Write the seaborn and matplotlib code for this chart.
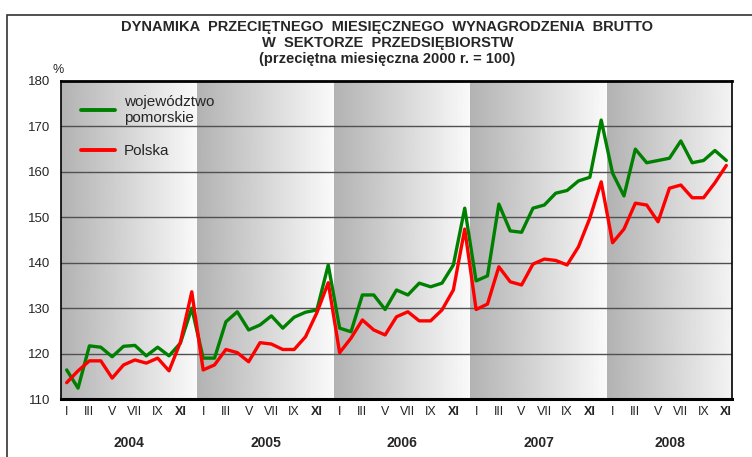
import numpy as np
import pandas as pd
import matplotlib
matplotlib.use("Agg")
import matplotlib.pyplot as plt
import matplotlib.transforms as mtransforms
from matplotlib.patches import Rectangle
import seaborn as sns

# --------------------------
# Data (Jan 2004 - Nov 2008, 2000 avg = 100)
# --------------------------
years = ["2004", "2005", "2006", "2007", "2008"]
month_labels = ["I", "", "III", "", "V", "", "VII", "", "IX", "", "XI", ""]

pomorskie = [116.4, 112.4, 121.7, 121.4, 119.3, 121.6, 121.8, 119.5, 121.4, 119.5, 122.3, 130.0,
             119.0, 119.0, 127.0, 129.2, 125.2, 126.3, 128.3, 125.6, 128.0, 129.1, 129.6, 139.5,
             125.6, 124.8, 132.9, 132.9, 129.7, 134.0, 132.9, 135.5, 134.7, 135.5, 139.5, 152.0,
             136.0, 137.1, 152.9, 147.0, 146.7, 152.0, 152.7, 155.3, 155.9, 158.0, 158.8, 171.4,
             159.7, 154.7, 165.0, 162.0, 162.5, 163.0, 166.8, 162.0, 162.5, 164.7, 162.5]
polska = [113.6, 116.2, 118.4, 118.4, 114.6, 117.5, 118.6, 117.9, 119.0, 116.2, 122.5, 133.6,
          116.4, 117.5, 120.9, 120.2, 118.2, 122.4, 122.1, 120.9, 120.9, 123.7, 129.0, 135.6,
          120.2, 123.4, 127.4, 125.2, 124.1, 128.1, 129.2, 127.2, 127.2, 129.6, 134.0, 147.4,
          129.7, 130.9, 139.1, 135.8, 135.1, 139.7, 140.8, 140.5, 139.5, 143.5, 149.8, 157.8,
          144.4, 147.4, 153.1, 152.7, 149.0, 156.4, 157.1, 154.3, 154.3, 157.6, 161.4]

n = len(polska)
df = pd.DataFrame({
    "idx": list(range(n)) * 2,
    "value": pomorskie + polska,
    "series": ["województwo\npomorskie"] * n + ["Polska"] * n,
})

# --------------------------
# Figure
# --------------------------
sns.set_style("white")
plt.rcParams["font.family"] = ["Liberation Sans", "DejaVu Sans"]

fig = plt.figure(figsize=(7.52, 4.57), dpi=100)
ax = fig.add_axes([0.0811, 0.1269, 0.8923, 0.6959])

# outer frame of the figure
fig.patches.append(Rectangle((7 / 752, -0.1), 1.2, 1 - 15 / 457 + 0.1, transform=fig.transFigure,
                             fill=False, edgecolor="#333333", linewidth=1.2))

# gradient background per year
ymin, ymax = 110, 180
for i in range(len(years)):
    x0 = 12 * i - 0.5
    x1 = min(12 * i + 11.5, n - 0.5)
    frac = (x1 - x0) / 12
    grad = np.linspace(0.70, 0.70 + 0.28 * frac, 100).reshape(1, -1)
    ax.imshow(grad, extent=[x0, x1, ymin, ymax], aspect="auto", cmap="gray",
              vmin=0, vmax=1, zorder=0, interpolation="bilinear")

# grid lines
for g in range(120, 180, 10):
    ax.axhline(g, color="#505050", linewidth=1.0, zorder=1)

sns.lineplot(data=df, x="idx", y="value", hue="series",
             palette=["#008000", "#ff0000"], linewidth=2.4, ax=ax, zorder=3)

ax.set_xlim(-0.5, n - 0.5)
ax.set_ylim(ymin, ymax)
ax.set_xlabel("")
ax.set_ylabel("")

# x ticks
pos = list(range(0, n, 2))
labs = [month_labels[p % 12] for p in pos]
ax.set_xticks(pos)
ax.set_xticklabels(labs, fontsize=9)
for t in ax.get_xticklabels():
    if t.get_text() == "XI":
        t.set_fontweight("bold")
ax.set_xticks(np.arange(-0.5, n, 1), minor=True)
ax.tick_params(axis="x", which="major", length=0, pad=5)
ax.tick_params(axis="x", which="minor", length=3, width=1.2, color="black", direction="out")

# year labels
trans = mtransforms.blended_transform_factory(ax.transData, ax.transAxes)
for i, yr in enumerate(years):
    x1 = min(12 * i + 11.5, n - 0.5)
    ax.text((12 * i - 0.5 + x1) / 2, -0.138, yr, transform=trans, ha="center", va="center",
            fontsize=10, fontweight="bold")

# y ticks
ax.set_yticks(range(110, 181, 10))
ax.tick_params(axis="y", length=0, labelsize=9.5, pad=8)
ax.text(-0.012, 1.035, "%", transform=ax.transAxes, ha="left", va="center", fontsize=9)

for s in ["left", "right", "top"]:
    ax.spines[s].set_color("black")
    ax.spines[s].set_linewidth(1.2)
ax.spines["top"].set_linewidth(2)
ax.spines["bottom"].set_color("black")
ax.spines["bottom"].set_linewidth(2.2)

leg = ax.legend(loc="upper left", bbox_to_anchor=(0.01, 1.0), frameon=False, fontsize=11,
                handlelength=2.2, labelspacing=1.25, handletextpad=0.6)
for line in leg.get_lines():
    line.set_linewidth(2.8)

fig.text(0.515, 0.940, "DYNAMIKA  PRZECIĘTNEGO  MIESIĘCZNEGO  WYNAGRODZENIA  BRUTTO",
         ha="center", va="center", fontsize=10.5, fontweight="bold")
fig.text(0.515, 0.905, "W  SEKTORZE  PRZEDSIĘBIORSTW",
         ha="center", va="center", fontsize=10.5, fontweight="bold")
fig.text(0.515, 0.870, "(przeciętna miesięczna 2000 r. = 100)",
         ha="center", va="center", fontsize=10.5, fontweight="bold")

fig.savefig("out.png", dpi=100)
